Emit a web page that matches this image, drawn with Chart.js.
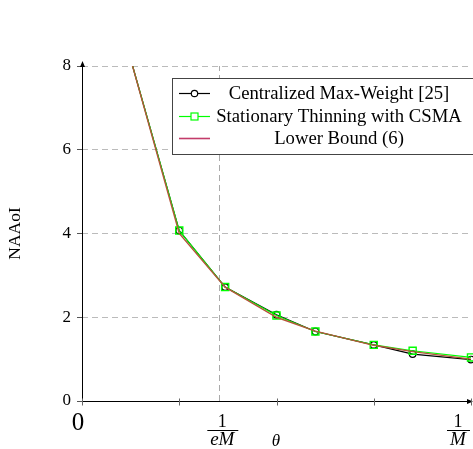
<!DOCTYPE html>
<html>
<head>
<meta charset="utf-8">
<script src="https://cdn.jsdelivr.net/npm/chart.js@4"></script>
<style>
  html, body { margin: 0; padding: 0; background: #fff; }
  #wrap { width: 473px; height: 449px; }
</style>
</head>
<body>
<div id="wrap"><canvas id="naaoi" width="473" height="449"></canvas></div>
<script>
// theta in units of 1/M
const thetas = [0.12, 0.25, 0.368, 0.5, 0.6, 0.75, 0.85, 1.0];
const maxWeight = [8.33, 4.07, 2.72, 2.06, 1.66, 1.34, 1.12, 0.99];
const thinningCsma = [8.33, 4.07, 2.72, 2.04, 1.66, 1.34, 1.20, 1.04];
const lowerBound = [8.33, 4.0, 2.72, 2.0, 1.67, 1.33, 1.18, 1.0];
const seriesNames = ['Centralized Max-Weight [25]', 'Stationary Thinning with CSMA', 'Lower Bound (6)'];
const yTicks = [0, 2, 4, 6, 8];
const xTicks = [0, 0.25, 0.5, 0.75, 1];
const eMark = 0.353; // dashed line at 1/(eM)

const pts = ys => thetas.map((t, i) => ({ x: t, y: ys[i] }));

Chart.defaults.font.family = "'Liberation Serif', serif";
Chart.defaults.color = '#000';

// axes with arrows, x ticks, dashed 1/eM line, fraction labels and the legend box
const decor = {
  id: 'decor',
  beforeDatasetsDraw(chart) {
    const { ctx, chartArea: a, scales: { x, y } } = chart;
    ctx.save();
    ctx.strokeStyle = '#aaa';
    ctx.lineWidth = 1;
    ctx.setLineDash([6, 4]);
    const ex = Math.round(x.getPixelForValue(eMark)) + 0.5;
    ctx.beginPath();
    ctx.moveTo(ex, y.getPixelForValue(0));
    ctx.lineTo(ex, y.getPixelForValue(8));
    ctx.stroke();
    ctx.setLineDash([]);

    // axes
    ctx.strokeStyle = '#000';
    ctx.fillStyle = '#000';
    const x0 = Math.round(a.left) + 0.5, y0 = Math.round(a.bottom) + 0.5;
    ctx.beginPath();
    ctx.moveTo(x0, y0);
    ctx.lineTo(x0, a.top - 3);
    ctx.moveTo(x0, y0);
    ctx.lineTo(a.right + 1, y0);
    ctx.stroke();
    ctx.beginPath();
    ctx.moveTo(x0, a.top - 5); ctx.lineTo(x0 - 2.5, a.top + 1); ctx.lineTo(x0 + 2.5, a.top + 1); ctx.closePath();
    ctx.moveTo(a.right + 2, y0); ctx.lineTo(a.right - 4, y0 - 2.5); ctx.lineTo(a.right - 4, y0 + 2.5); ctx.closePath();
    ctx.fill();

    // x tick marks
    ctx.strokeStyle = '#666';
    xTicks.forEach(v => {
      const px = Math.round(x.getPixelForValue(v)) + 0.5;
      ctx.beginPath();
      ctx.moveTo(px, y0 - 3);
      ctx.lineTo(px, y0 + 4);
      ctx.stroke();
    });
    ctx.restore();
  },
  afterDraw(chart) {
    const { ctx, scales: { x } } = chart;
    ctx.save();
    ctx.fillStyle = '#000';
    ctx.strokeStyle = '#000';
    ctx.textAlign = 'center';
    ctx.textBaseline = 'middle';

    // x labels
    ctx.font = "25px 'Liberation Serif', serif";
    ctx.fillText('0', x.getPixelForValue(0) - 4, 423);
    const frac = (cx, den) => {
      ctx.font = "18px 'Liberation Serif', serif";
      ctx.fillText('1', cx, 422);
      ctx.lineWidth = 1;
      ctx.beginPath();
      ctx.moveTo(cx - (den.length > 1 ? 15 : 11), 430.5);
      ctx.lineTo(cx + (den.length > 1 ? 16 : 12), 430.5);
      ctx.stroke();
      ctx.font = "italic 19px 'Liberation Serif', serif";
      ctx.fillText(den, cx, 440);
    };
    frac(x.getPixelForValue(eMark) + 3, 'eM');
    frac(x.getPixelForValue(1) - 13, 'M');
    ctx.font = "italic 17px 'Liberation Serif', serif";
    ctx.fillText('θ', 276, 442);

    // legend
    const bx = 172.5, by = 78.5, bw = 310, bh = 76;
    ctx.fillStyle = '#fff';
    ctx.fillRect(bx, by, bw, bh);
    ctx.strokeStyle = '#444';
    ctx.lineWidth = 1;
    ctx.strokeRect(bx, by, bw, bh);
    const rows = [93, 116, 138];
    const colors = ['#000', '#00ff00', '#c33c6a'];
    ctx.font = "18.7px 'Liberation Serif', serif";
    rows.forEach((ry, i) => {
      ctx.strokeStyle = colors[i];
      ctx.lineWidth = i === 2 ? 1.6 : 1.2;
      ctx.beginPath();
      ctx.moveTo(179, ry + 0.5);
      ctx.lineTo(210, ry + 0.5);
      ctx.stroke();
      if (i === 0) {
        ctx.beginPath();
        ctx.arc(194.5, ry + 0.5, 3.2, 0, Math.PI * 2);
        ctx.fillStyle = '#fff';
        ctx.fill();
        ctx.stroke();
      } else if (i === 1) {
        ctx.fillStyle = '#fff';
        ctx.fillRect(191, ry - 3, 7, 7);
        ctx.strokeRect(191, ry - 3, 7, 7);
      }
      ctx.fillStyle = '#000';
      ctx.fillText(seriesNames[i], 339, ry + 1);
    });
    ctx.restore();
  }
};

new Chart(document.getElementById('naaoi'), {
  type: 'scatter',
  data: {
    datasets: [
      {
        label: seriesNames[0],
        data: pts(maxWeight),
        showLine: true,
        borderColor: '#000',
        backgroundColor: 'rgba(0,0,0,0)',
        borderWidth: 1.2,
        pointStyle: 'circle',
        pointRadius: 3.3,
        pointBorderWidth: 1.2,
        clip: { left: 5, top: 0, right: 8, bottom: 5 },
        order: 3
      },
      {
        label: seriesNames[1],
        data: pts(thinningCsma),
        showLine: true,
        borderColor: '#00ff00',
        backgroundColor: 'rgba(0,0,0,0)',
        borderWidth: 1.2,
        pointStyle: 'rect',
        pointRadius: 5,
        pointBorderWidth: 1.4,
        clip: { left: 5, top: 0, right: 8, bottom: 5 },
        order: 2
      },
      {
        label: seriesNames[2],
        data: pts(lowerBound),
        showLine: true,
        borderColor: '#b4553a',
        borderWidth: 1.4,
        pointRadius: 0,
        clip: { left: 5, top: 0, right: 8, bottom: 5 },
        order: 1
      }
    ]
  },
  options: {
    responsive: false,
    animation: false,
    layout: { autoPadding: false, padding: { left: 0, top: 66, right: 2, bottom: 0 } },
    plugins: { legend: { display: false }, tooltip: { enabled: false } },
    scales: {
      x: {
        type: 'linear',
        min: 0,
        max: 1,
        ticks: { display: false },
        grid: { display: false },
        border: { display: false },
        afterFit: s => { s.height = 48; }
      },
      y: {
        min: 0,
        max: 8,
        afterBuildTicks: s => { s.ticks = yTicks.map(v => ({ value: v })); },
        ticks: { font: { size: 17 }, padding: 6, color: '#000' },
        grid: { color: '#bbb', tickColor: '#555', tickLength: 5, tickBorderDash: [] },
        border: { display: false, dash: [6, 4] },
        title: { display: true, text: 'NAAoI', font: { size: 17.5 }, padding: { top: 5, bottom: 0 } },
        afterFit: s => { s.width = 82; }
      }
    }
  },
  plugins: [decor]
});
</script>
</body>
</html>
